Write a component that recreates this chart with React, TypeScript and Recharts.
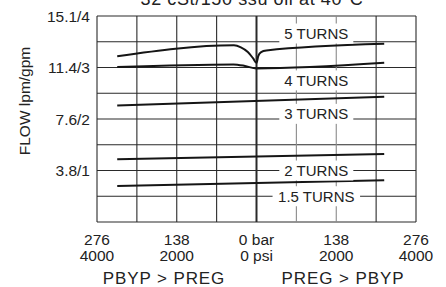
import React from 'react'
import { LineChart, Line, XAxis, YAxis, ReferenceLine, ReferenceDot } from 'recharts'

const FONT = '"Liberation Sans", Arial, Helvetica, sans-serif'

// pressure difference in bar (left side = PBYP > PREG, shown negative here)
const turns5Bar = [-241, -39, -27, -15, -6, 0, 3, 8, 17, 221]
const turns5Flow = [3.22, 3.43, 3.39, 3.3, 3.18, 3.09, 3.22, 3.3, 3.33, 3.46]
const turns4Bar = [-241, -40, -20, 0, 221]
const turns4Flow = [3.01, 3.06, 3.03, 2.98, 3.09]
const turns3Bar = [-241, 221]
const turns3Flow = [2.26, 2.43]
const turns2Bar = [-241, 221]
const turns2Flow = [1.22, 1.32]
const turns15Bar = [-241, 221]
const turns15Flow = [0.7, 0.81]

const turnLabels = ['5 TURNS', '4 TURNS', '3 TURNS', '2 TURNS', '1.5 TURNS']
const turnLabelFlow = [3.66, 2.75, 2.1, 1.0, 0.5]
const turnLabelBar = 103.5

const xTickBar = [-276, -138, 0, 138, 276]
const xTickTop = ['276', '138', '0 bar', '138', '276']
const xTickBottom = ['4000', '2000', '0 psi', '2000', '4000']
const yTickFlow = [1, 2, 3, 4]
const yTickText = ['3.8/1', '7.6/2', '11.4/3', '15.1/4']

const gridBar = [-276, -207, -138, -69, 0, 69, 138, 207, 276]
const grayGridBar = [69, 138]
const gridFlow = [0, 0.5, 1, 1.5, 2, 2.5, 3, 3.5, 4]

const zip = (bar: number[], flow: number[]) => bar.map((b, i) => ({ bar: b, flow: flow[i] }))

const curves = [
  { key: 't5', data: zip(turns5Bar, turns5Flow), type: 'monotone' },
  { key: 't4', data: zip(turns4Bar, turns4Flow), type: 'monotone' },
  { key: 't3', data: zip(turns3Bar, turns3Flow), type: 'linear' },
  { key: 't2', data: zip(turns2Bar, turns2Flow), type: 'linear' },
  { key: 't15', data: zip(turns15Bar, turns15Flow), type: 'linear' },
]

const textWidth = (s: string) =>
  s.split('').reduce((w, c) => w + (c === '.' || c === ' ' ? 4.2 : 9.3), 0)

const XTick = (props: any) => {
  const { x, y, payload } = props
  const i = xTickBar.indexOf(payload.value)
  if (i < 0) return null
  return (
    <text x={x} y={y} textAnchor="middle" fill="#222" fontSize={15.5} fontFamily={FONT}>
      <tspan x={x} dy={15}>{xTickTop[i]}</tspan>
      <tspan x={x} dy={16}>{xTickBottom[i]}</tspan>
    </text>
  )
}

const YTick = (props: any) => {
  const { x, y, payload } = props
  const i = yTickFlow.indexOf(payload.value)
  if (i < 0) return null
  return (
    <text x={x} y={y} dy="0.36em" textAnchor="end" fill="#222" fontSize={15.5} fontFamily={FONT}>
      {yTickText[i]}
    </text>
  )
}

const labelShape = (text: string) => (props: any) => {
  const { cx, cy } = props
  const w = textWidth(text) + 14
  return (
    <g>
      <rect x={cx - w / 2} y={cy - 10} width={w} height={20} fill="#fff" />
      <text x={cx} y={cy} dy="0.36em" textAnchor="middle" fill="#222" fontSize={15} fontFamily={FONT}>
        {text}
      </text>
    </g>
  )
}

export default function App() {
  return (
    <div style={{ position: 'fixed', left: 0, top: 0, width: 446, height: 287, background: '#fff' }}>
      <LineChart width={446} height={287} margin={{ top: 16, right: 30, left: 0, bottom: 0 }}>
        <XAxis
          type="number"
          dataKey="bar"
          domain={[-276, 276]}
          ticks={xTickBar}
          axisLine={false}
          tickLine={false}
          height={65}
          tick={<XTick />}
          allowDataOverflow
        />
        <YAxis
          type="number"
          dataKey="flow"
          domain={[0, 4]}
          ticks={yTickFlow}
          axisLine={false}
          tickLine={false}
          tickMargin={1}
          width={97}
          tick={<YTick />}
          allowDataOverflow
        />
        {gridFlow.map((v) => (
          <ReferenceLine key={'h' + v} y={v} stroke="#2a2a2a" strokeWidth={1.1} />
        ))}
        {gridBar.map((v) => (
          <ReferenceLine
            key={'v' + v}
            x={v}
            stroke={grayGridBar.includes(v) ? '#8a8a8a' : '#2a2a2a'}
            strokeWidth={v === 0 ? 2 : 1.1}
          />
        ))}
        {curves.map((c) => (
          <Line
            key={c.key}
            data={c.data}
            dataKey="flow"
            type={c.type as any}
            stroke="#151515"
            strokeWidth={2}
            dot={false}
            activeDot={false}
            isAnimationActive={false}
          />
        ))}
        {turnLabels.map((t, i) => (
          <ReferenceDot key={t} x={turnLabelBar} y={turnLabelFlow[i]} r={0} shape={labelShape(t)} />
        ))}
      </LineChart>
      <svg width={446} height={287} style={{ position: 'absolute', left: 0, top: 0, pointerEvents: 'none' }}>
        <text x={252} y={5} textAnchor="middle" fill="#222" fontSize={18} letterSpacing={0.6} fontFamily={FONT}>
          32 cSt/150 ssu oil at 40°C
        </text>
        <text
          x={30}
          y={101}
          transform="rotate(-90 30 101)"
          textAnchor="middle"
          fill="#222"
          fontSize={15.5}
          fontFamily={FONT}
        >
          FLOW lpm/gpm
        </text>
        <text x={164} y={283.5} textAnchor="middle" fill="#222" fontSize={17} letterSpacing={0.9} fontFamily={FONT}>
          PBYP &gt; PREG
        </text>
        <text x={343} y={283.5} textAnchor="middle" fill="#222" fontSize={17} letterSpacing={0.9} fontFamily={FONT}>
          PREG &gt; PBYP
        </text>
      </svg>
    </div>
  )
}
